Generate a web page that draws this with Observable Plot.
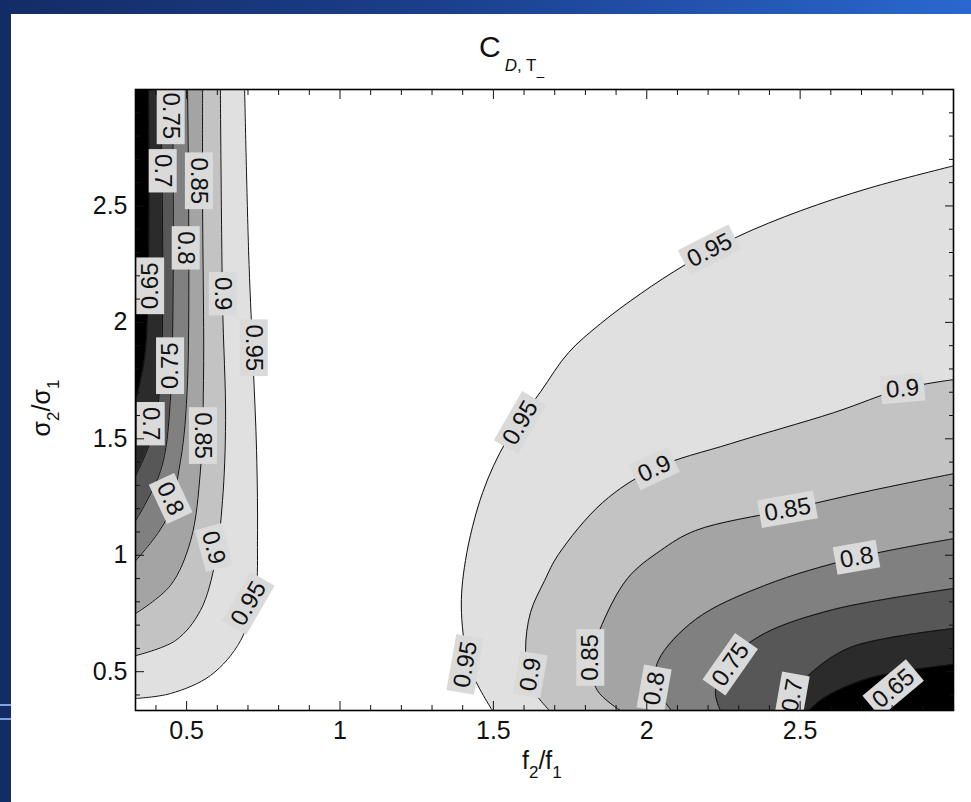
<!DOCTYPE html>
<html><head><meta charset="utf-8">
<script src="https://cdn.jsdelivr.net/npm/d3@7"></script>
<script src="https://cdn.jsdelivr.net/npm/@observablehq/plot@0.6"></script>
<style>
html,body{margin:0;padding:0;width:971px;height:802px;overflow:hidden;}
body{position:relative;background:linear-gradient(to right,#132c66 0%,#1b3f8c 45%,#2a68cf 100%);font-family:"Liberation Sans",Arial,sans-serif;color:#111;}
#panel{position:absolute;left:11px;top:14px;right:0;bottom:0;background:#fff;}
#deco1,#deco2{position:absolute;left:0;width:11px;height:2px;background:#7fa3e0;}
#deco1{top:704px;}#deco2{top:718px;}
#title{position:absolute;left:479px;top:32px;font-size:30px;line-height:1;white-space:nowrap;}
#title .s{font-size:17px;position:relative;top:14px;margin-left:4px;}
#title .m{font-size:14px;position:relative;top:10px;}
#chart{position:absolute;left:0;top:60px;}
#xlabel{position:absolute;left:522px;top:746px;font-size:25px;white-space:nowrap;}
#ylabel{position:absolute;left:45px;top:408px;font-size:25px;white-space:nowrap;transform:translate(-50%,-50%) rotate(-90deg);}
sub{font-size:17px;vertical-align:-9px;}
</style></head>
<body>
<div id="panel"></div>
<div id="deco1"></div><div id="deco2"></div>
<div id="title">C<span class="s"><i>D</i>, T<span class="m">–</span></span></div>
<div id="chart"></div>
<div id="xlabel">f<sub>2</sub>/f<sub>1</sub></div>
<div id="ylabel">σ<sub>2</sub>/σ<sub>1</sub></div>
<script>
// ---- data (x = f2/f1, y = sigma2/sigma1) ----
const xDomain = [1/3, 3];
const yDomain = [1/3, 3];
const levels = [0.95, 0.9, 0.85, 0.8, 0.75, 0.7, 0.65];

// right-hand contours, points [x, y] ordered by y
const right095 = [[1.497,0.333],[1.425,0.513],[1.396,0.754],[1.409,0.977],[1.465,1.269],[1.543,1.492],[1.654,1.702],[1.745,1.870],[1.849,1.994],[1.980,2.123],[2.126,2.248],[2.296,2.368],[2.501,2.479],[2.729,2.578],[3.0,2.672]];
const right090 = [[1.683,0.333],[1.621,0.441],[1.605,0.591],[1.621,0.754],[1.667,0.891],[1.712,1.003],[1.856,1.226],[2.025,1.372],[2.273,1.479],[2.609,1.612],[2.834,1.715],[3.0,1.754]];
const right085 = [[1.914,0.333],[1.839,0.419],[1.817,0.548],[1.846,0.677],[1.937,0.900],[2.045,1.020],[2.159,1.106],[2.459,1.196],[2.729,1.277],[3.0,1.350]];
const right080 = [[2.081,0.333],[2.029,0.441],[2.038,0.548],[2.159,0.724],[2.384,0.870],[2.684,0.990],[3.0,1.071]];
const right075 = [[2.240,0.333],[2.224,0.419],[2.289,0.569],[2.384,0.664],[2.609,0.767],[3.0,0.857]];
const right070 = [[2.452,0.333],[2.475,0.398],[2.531,0.488],[2.664,0.604],[3.0,0.685]];
const right065 = [[2.531,0.333],[2.576,0.385],[2.723,0.471],[3.0,0.531]];

// left-hand contours, points [x, y] ordered by y
const left095 = [[0.334,0.385],[0.447,0.406],[0.578,0.484],[0.676,0.634],[0.725,0.848],[0.731,1.063],[0.728,1.449],[0.715,1.878],[0.702,2.307],[0.689,3.0]];
const left090 = [[0.334,0.569],[0.464,0.634],[0.545,0.763],[0.594,0.977],[0.617,1.235],[0.627,1.578],[0.617,2.093],[0.610,3.0]];
const left085 = [[0.334,0.750],[0.447,0.870],[0.513,1.063],[0.545,1.363],[0.555,1.750],[0.552,2.522],[0.552,3.0]];
const left080 = [[0.334,0.977],[0.431,1.149],[0.480,1.406],[0.503,1.750],[0.503,3.0]];
const left075 = [[0.334,1.149],[0.415,1.363],[0.447,1.664],[0.454,3.0]];
const left070 = [[0.334,1.342],[0.382,1.492],[0.415,1.750],[0.415,3.0]];
const left065 = [[0.334,1.664],[0.366,1.878],[0.376,3.0]];

// contour labels
const labelText  = ["0.75","0.7","0.85","0.8","0.65","0.9","0.95","0.75","0.7","0.85","0.8","0.9","0.95",
                    "0.95","0.9","0.95","0.9","0.85","0.8","0.95","0.9","0.85","0.8","0.75","0.7","0.65"];
const labelX     = [0.447,0.421,0.539,0.496,0.382,0.617,0.718,0.447,0.382,0.552,0.447,0.588,0.702,
                    2.205,2.834,1.588,2.025,2.459,2.684,1.409,1.621,1.817,2.025,2.273,2.475,2.804];
const labelY     = [2.887,2.651,2.608,2.320,2.157,2.123,1.891,1.814,1.565,1.514,1.243,1.033,0.793,
                    2.310,1.715,1.569,1.372,1.196,0.990,0.531,0.488,0.561,0.428,0.531,0.398,0.428];
const labelAngle = [90,90,90,90,-90,90,90,-90,90,90,65,75,-60,
                    -27,-5,-60,-25,-10,-10,-80,-80,-90,-80,-55,-80,-40];

// axis ticks
const xTicks = [0.5, 1, 1.5, 2, 2.5];
const xTickLabels = ["0.5","1","1.5","2","2.5"];
const yTicks = [0.5, 1, 1.5, 2, 2.5];
const yTickLabels = ["0.5","1","1.5","2","2.5"];

// ---- styles ----
const bandFills = ["#e0e0e0","#c3c3c3","#a4a4a4","#808080","#575757","#2b2b2b","#000000"];
const rightCurves = [right095,right090,right085,right080,right075,right070,right065];
const leftCurves  = [left095,left090,left085,left080,left075,left070,left065];
const minor = d3.range(4, 30).map(d => d / 10).filter(d => Math.abs(d * 2 - Math.round(d * 2)) > 1e-9);
const labels = labelText.map((t, i) => ({t, x: labelX[i], y: labelY[i], r: labelAngle[i]}));

const marks = [];
levels.forEach((lv, i) => {
  marks.push(Plot.areaX(rightCurves[i], {y: d => d[1], x1: d => d[0], x2: xDomain[1], fill: bandFills[i], curve: "catmull-rom"}));
  marks.push(Plot.areaX(leftCurves[i],  {y: d => d[1], x1: xDomain[0], x2: d => d[0], fill: bandFills[i], curve: "catmull-rom"}));
});
levels.forEach((lv, i) => {
  marks.push(Plot.line(rightCurves[i], {x: d => d[0], y: d => d[1], stroke: "#111", strokeWidth: 1, curve: "catmull-rom"}));
  marks.push(Plot.line(leftCurves[i],  {x: d => d[0], y: d => d[1], stroke: "#111", strokeWidth: 1, curve: "catmull-rom"}));
});
marks.push(Plot.text(labels, {x: "x", y: "y", text: "t", rotate: "r", fontSize: 24, fill: "#111"}));
marks.push(Plot.frame({stroke: "#000", strokeWidth: 1.6}));
const blank = () => "";
for (const anchor of ["bottom", "top"]) {
  marks.push(Plot.axisX(xTicks, {anchor, tickSize: -9, tickFormat: blank, label: null}));
  marks.push(Plot.axisX(minor,  {anchor, tickSize: -5, tickFormat: blank, label: null}));
}
for (const anchor of ["left", "right"]) {
  marks.push(Plot.axisY(yTicks, {anchor, tickSize: -9, tickFormat: blank, label: null}));
  marks.push(Plot.axisY(minor,  {anchor, tickSize: -5, tickFormat: blank, label: null}));
}
marks.push(Plot.axisX(xTicks, {anchor: "bottom", tickSize: 0, tickPadding: 11, fontSize: 25, label: null, tickFormat: (d, i) => xTickLabels[i]}));
marks.push(Plot.axisY(yTicks, {anchor: "left", tickSize: 0, tickPadding: 8, fontSize: 25, label: null, tickFormat: (d, i) => yTickLabels[i]}));

const svg = Plot.plot({
  width: 971, height: 720,
  marginLeft: 135, marginRight: 18, marginTop: 29, marginBottom: 70,
  x: {domain: xDomain}, y: {domain: yDomain},
  style: {background: "transparent", fontFamily: "Liberation Sans, Arial, sans-serif", color: "#111"},
  clip: true,
  marks
});
document.getElementById("chart").appendChild(svg);

// grey boxes behind the contour labels
svg.querySelectorAll('g[aria-label="text"] text').forEach(t => {
  const b = t.getBBox();
  const r = document.createElementNS("http://www.w3.org/2000/svg", "rect");
  r.setAttribute("x", b.x - 5); r.setAttribute("y", b.y);
  r.setAttribute("width", b.width + 10); r.setAttribute("height", b.height + 1);
  r.setAttribute("fill", "#dadada");
  if (t.getAttribute("transform")) r.setAttribute("transform", t.getAttribute("transform"));
  t.parentNode.insertBefore(r, t);
});
</script>
</body></html>
